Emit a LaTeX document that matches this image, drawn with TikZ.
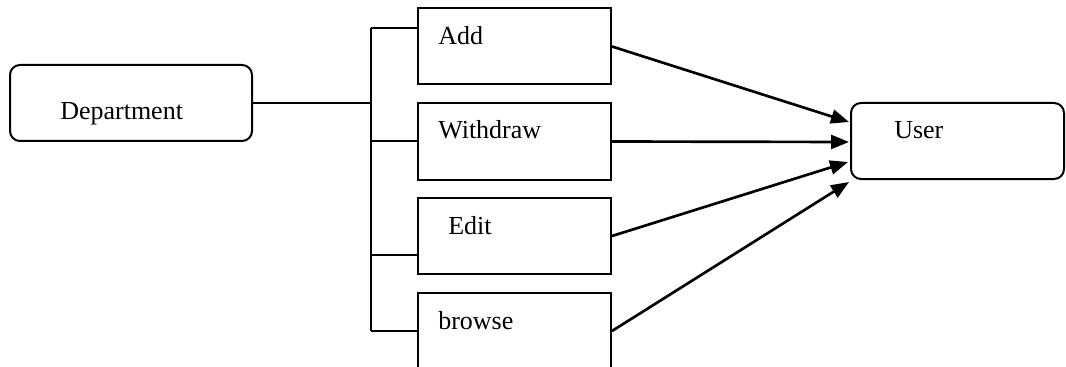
\documentclass[tikz,border=0pt]{standalone}
\usepackage{fontspec}
\setmainfont{Liberation Serif}
\usetikzlibrary{arrows.meta,calc}

\tikzset{
  box/.style={draw, line width=1.5pt, inner sep=0pt, minimum width=144.75pt, minimum height=57pt},
  roundbox/.style={box, rounded corners=7.5pt},
  lbl/.style={anchor=base west, inner sep=0pt, font=\fontsize{19.5}{23}\selectfont},
  wire/.style={line width=1.5pt},
  flow/.style={line width=2pt, -{Triangle[length=13.5pt,width=10.5pt]}}
}

\begin{document}
\begin{tikzpicture}[x=0.75pt, y=-0.75pt]
  \useasboundingbox (0,0) rectangle (1066,367);
  \clip (0,0) rectangle (1066,367);

  % source and target
  \node[roundbox, minimum width=181.5pt,
        label={[lbl, xshift=38.25pt, yshift=-42pt]north west:Department}] (dept) at (131,103) {};
  \node[roundbox, minimum width=159.75pt,
        label={[lbl, xshift=33pt, yshift=-27.75pt]north west:User}] (user) at (957.5,141) {};

  % operations
  \node[box, label={[lbl, xshift=15.75pt, yshift=-27.75pt]north west:Add}] (add) at (514.5,46.5) {};
  \node[box, label={[lbl, xshift=15.75pt, yshift=-27pt]north west:Withdraw}] (withdraw) at (514.5,141.5) {};
  \node[box, label={[lbl, xshift=23.25pt, yshift=-27.75pt]north west:Edit}] (edit) at (514.5,236) {};
  \node[box, label={[lbl, xshift=15.75pt, yshift=-27.75pt]north west:browse}] (browse) at (514.5,331) {};

  % tree joints on the trunk
  \coordinate (jA) at (371,28);
  \coordinate (jW) at (371,141);
  \coordinate (jE) at (371,255);
  \coordinate (jB) at (371,331);

  \draw[wire] (dept.east) -- (dept.east -| jA);
  \draw[wire] (jA) -- (jB);
  \draw[wire] (jA) -- (jA -| add.west);
  \draw[wire] (jW) -- (jW -| withdraw.west);
  \draw[wire] (jE) -- (jE -| edit.west);
  \draw[wire] (jB) -- (jB -| browse.west);

  % arrow ends at the user
  \coordinate (uA) at ($(user.west)+(-1,-19)$);
  \coordinate (uW) at ($(user.west)+(-1,1)$);
  \coordinate (uE) at ($(user.west)+(-2,21)$);
  \coordinate (uB) at ($(user.west)+(-1,41)$);

  \draw[flow] (add.east) -- (uA);
  \draw[flow] (withdraw.east) -- (uW);
  \draw[flow] (edit.east) -- (uE);
  \draw[flow] (browse.east) -- (uB);
\end{tikzpicture}
\end{document}
